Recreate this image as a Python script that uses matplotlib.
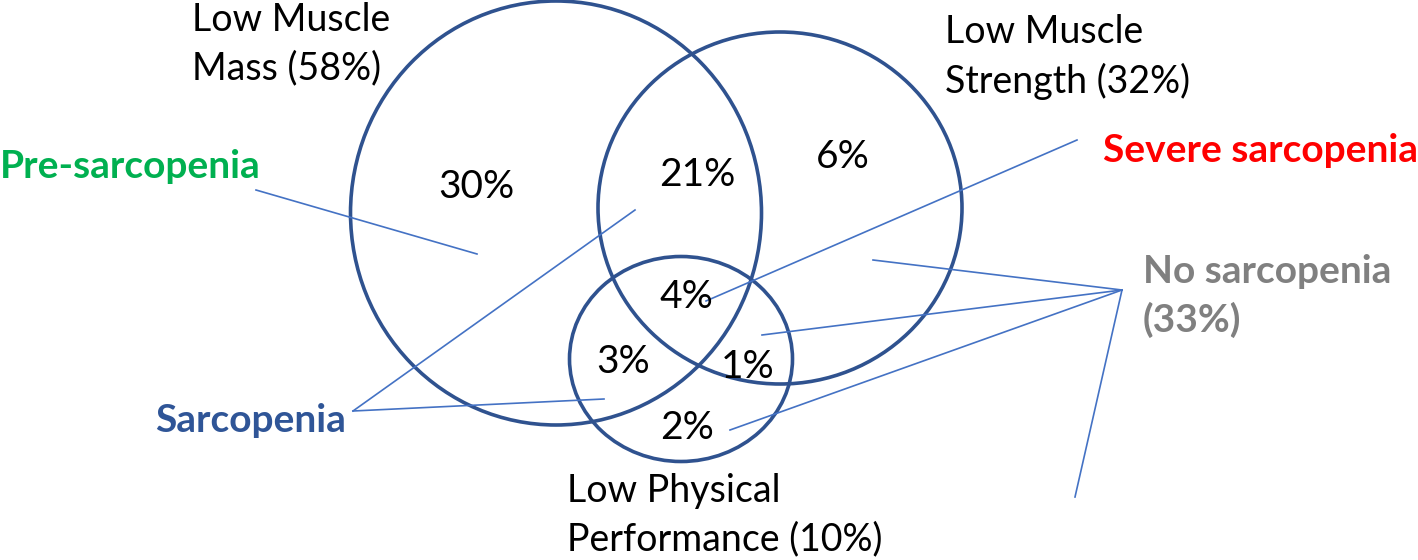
import matplotlib.pyplot as plt
from matplotlib.patches import Ellipse

# ---- data ----
set_names = ["Low Muscle\nMass", "Low Muscle\nStrength", "Low Physical\nPerformance"]
set_pct = [58, 32, 10]
# regions: LMM only, LMM&LMS, LMS only, all three, LMM&LPP, LMS&LPP, LPP only
region_pct = [30, 21, 6, 4, 3, 1, 2]
category_names = ["Pre-sarcopenia", "Sarcopenia", "Severe sarcopenia", "No sarcopenia"]
no_sarc_pct = 33

# ---- layout (pixel coords, y down) ----
circles = [(556, 213, 411, 424), (780, 208, 364, 352), (681, 359, 223, 205)]
set_label_xy = [(192, 44), (945, 57), (567, 515)]
region_xy = [(476, 187), (697, 175), (843, 157), (686, 297), (623, 362), (748, 367), (687, 428)]
cat_xy = [(0, 167), (155, 420), (1103, 150), (1143, 296)]
cat_colors = ["#00B050", "#2F5597", "#FF0000", "#808080"]
leaders = {
    0: [((256, 190), (477, 254))],
    1: [((353, 411), (635, 210)), ((353, 411), (604, 399))],
    2: [((1077, 140), (706, 301))],
    3: [((1122, 290), (873, 260)), ((1122, 290), (762, 335)),
        ((1122, 290), (730, 430)), ((1122, 290), (1075, 497))],
}

plt.rcParams['font.family'] = ['Lato', 'DejaVu Sans']
fig = plt.figure(figsize=(14.18, 5.6), dpi=100)
ax = fig.add_axes([0, 0, 1, 1])
ax.set_xlim(0, 1418)
ax.set_ylim(560, 0)
ax.axis("off")

for (cx, cy, w, h) in circles:
    ax.add_patch(Ellipse((cx, cy), w, h, fill=False, edgecolor="#2F528F", linewidth=2.6, zorder=2))

for k, segs in leaders.items():
    for (p0, p1) in segs:
        ax.plot([p0[0], p1[0]], [p0[1], p1[1]], color="#4472C4", linewidth=1.2, zorder=3)

for name, pct, (x, y) in zip(set_names, set_pct, set_label_xy):
    ax.text(x, y, f"{name} ({pct}%)", fontsize=27, ha="left", va="center",
            linespacing=1.42, color="black")

for pct, (x, y) in zip(region_pct, region_xy):
    ax.text(x, y, f"{pct}%", fontsize=28, ha="center", va="center", color="black", zorder=4)

for i, (name, (x, y), c) in enumerate(zip(category_names, cat_xy, cat_colors)):
    label = name if i < 3 else f"{name}\n({no_sarc_pct}%)"
    ax.text(x, y, label, fontsize=28, fontweight="bold", ha="left", va="center",
            linespacing=1.42, color=c)

fig.savefig("out.png", dpi=100)
